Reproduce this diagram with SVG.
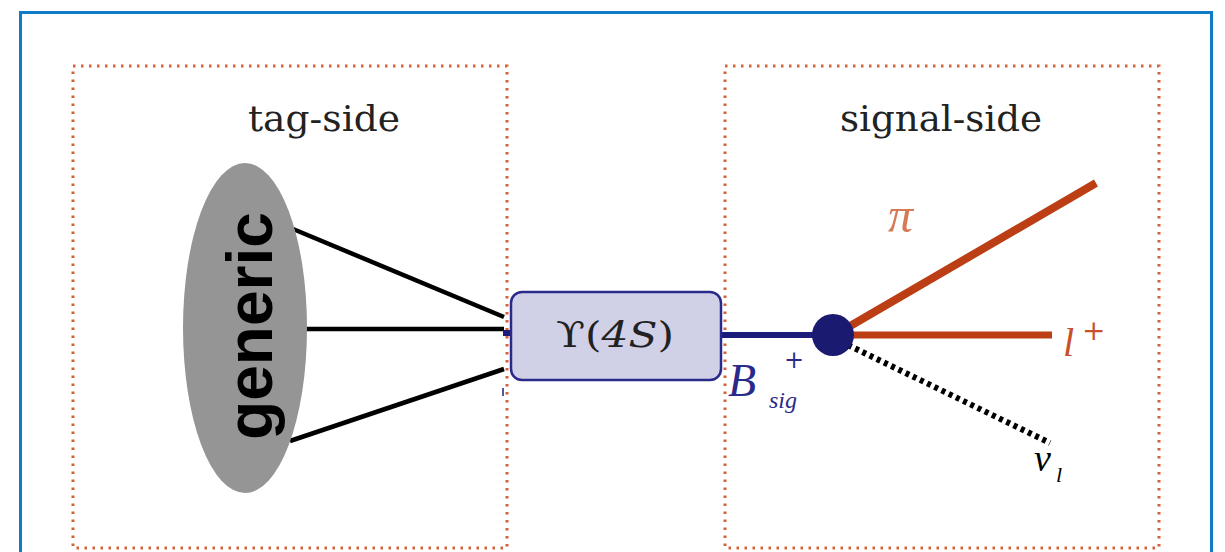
<svg xmlns="http://www.w3.org/2000/svg" width="1225" height="552" viewBox="0 0 1225 552">
<style>
.region{fill:none;stroke:#d2623a;stroke-width:3;stroke-dasharray:2.5 5.5}
.lbl{font-family:"DejaVu Serif","Liberation Serif",serif}
.math{font-family:"Liberation Serif","DejaVu Serif",serif;font-style:italic}
.tagline{stroke:#000;stroke-width:4.5;fill:none}
.red{stroke:#bb3e14;fill:none}
</style>
<rect x="0" y="0" width="1225" height="552" fill="#fff"/>
<rect x="20.5" y="12.5" width="1191" height="560" fill="none" stroke="#0f7cc8" stroke-width="3"/>

<g id="tag-side-region">
<rect class="region" x="73" y="66" width="434" height="482"/>
<text class="lbl" x="324" y="131" font-size="35" fill="#222" text-anchor="middle" textLength="152" lengthAdjust="spacingAndGlyphs">tag-side</text>
</g>
<g id="signal-side-region">
<rect class="region" x="725" y="66" width="434" height="482"/>
<text class="lbl" x="941" y="131" font-size="35" fill="#222" text-anchor="middle" textLength="202" lengthAdjust="spacingAndGlyphs">signal-side</text>
</g>

<g id="connectors">
<line class="tagline" x1="293" y1="229" x2="504" y2="317"/>
<line class="tagline" x1="306" y1="329" x2="504" y2="329"/>
<line class="tagline" x1="290" y1="441" x2="504" y2="369"/>
<line x1="503" y1="333" x2="512" y2="333" stroke="#1c1c7a" stroke-width="6"/>
<line x1="503" y1="388" x2="503" y2="396" stroke="#1c1c7a" stroke-width="1.5"/>
<line x1="720" y1="335" x2="830" y2="335" stroke="#1c1c7a" stroke-width="6"/>
<line class="red" x1="845" y1="329" x2="1096" y2="183" stroke-width="8"/>
<line class="red" x1="845" y1="335" x2="1052" y2="335" stroke-width="7"/>
<line x1="848" y1="345" x2="1050" y2="443" stroke="#000" stroke-width="6" stroke-dasharray="4 4"/>
</g>

<g id="generic">
<ellipse cx="245" cy="328" rx="62" ry="165" fill="#959595"/>
<text x="272" y="326" transform="rotate(-90 272 326)" font-family="Liberation Sans,Arial,sans-serif" font-weight="bold" font-size="64" text-anchor="middle" fill="#000">generic</text>
</g>

<g id="upsilon">
<rect x="511" y="292" width="210" height="88" rx="11" fill="#d0d0e6" stroke="#2a2a8a" stroke-width="2.5"/>
<text class="lbl" x="615" y="347" font-size="36" fill="#222" text-anchor="middle" textLength="118" lengthAdjust="spacingAndGlyphs">ϒ(<tspan font-style="italic">4S</tspan>)</text>
</g>

<g id="vertex">
<circle cx="833" cy="335" r="21" fill="#1a1a70"/>
</g>

<g id="label-bsig">
<text class="math" x="728" y="396" font-size="46" fill="#2a2a8a">B</text>
<text class="lbl" x="784" y="368" font-size="24" fill="#2a2a8a">+</text>
<text class="math" x="769" y="408" font-size="24" fill="#2a2a8a">sig</text>
</g>

<g id="label-pi">
<text class="math" x="888" y="232" font-size="50" fill="#d67a56">π</text>
</g>
<g id="label-lplus">
<text class="math" x="1063" y="356" font-size="40" fill="#c8502a">l</text>
<text class="lbl" x="1082" y="340" font-size="28" fill="#c8502a">+</text>
</g>
<g id="label-nu">
<text class="math" x="1034" y="471" font-size="38" fill="#000">ν</text>
<text class="math" x="1056" y="482" font-size="22" fill="#000">l</text>
</g>
</svg>
